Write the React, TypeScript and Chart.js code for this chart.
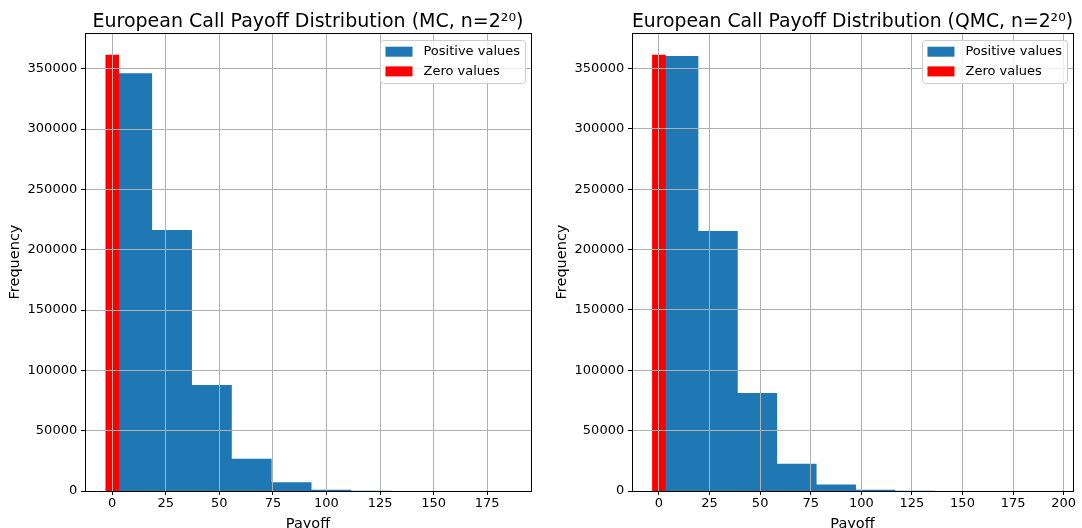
import React, { useEffect, useRef } from "react";
import { Chart, registerables } from "chart.js";

Chart.register(...registerables);

const FONT = "'DejaVu Sans', 'Liberation Sans', sans-serif";

// ---- Data ----
const seriesLabels = ["Positive values", "Zero values"];
const seriesColors = ["#1f77b4", "#ff0000"];
const panelTitles = [
  "European Call Payoff Distribution (MC, n=2²⁰)",
  "European Call Payoff Distribution (QMC, n=2²⁰)",
];
const xAxisTitle = "Payoff";
const yAxisTitle = "Frequency";

// MC panel
const mcBinEdges = [0, 18.6, 37.2, 55.8, 74.4, 93.0, 111.6, 130.2, 148.8, 167.4, 186.0];
const mcPositiveCounts = [346400, 216300, 87900, 26800, 7200, 1100, 240, 50, 10, 2];
const mcZeroBarEdges = [-3.26, 3.26];
const mcZeroCount = 361600;

// QMC panel
const qmcBinEdges = [0, 19.47, 38.94, 58.41, 77.88, 97.35, 116.82, 136.29, 155.76, 175.23, 194.7];
const qmcPositiveCounts = [360500, 215500, 81200, 22600, 5300, 1100, 200, 40, 8, 2];
const qmcZeroBarEdges = [-3.41, 3.41];
const qmcZeroCount = 361400;

const xTickStep = 25;
const yTickValues = [0, 50000, 100000, 150000, 200000, 250000, 300000, 350000];

const panels = [
  { edges: mcBinEdges, counts: mcPositiveCounts, zeroEdges: mcZeroBarEdges, zeroCount: mcZeroCount },
  { edges: qmcBinEdges, counts: qmcPositiveCounts, zeroEdges: qmcZeroBarEdges, zeroCount: qmcZeroCount },
];

// layout (pixels) per panel
const panelLayout = [
  { left: 0, yAxisWidth: 85, padRight: 10, yTitlePad: 6.9 },
  { left: 541, yAxisWidth: 91, padRight: 9, yTitlePad: 13 },
];
const PANEL_W = 541;
const PANEL_H = 528;

function histPoints(edges: number[], counts: number[]) {
  const pts: { x: number; y: number }[] = [{ x: edges[0], y: 0 }];
  counts.forEach((c, i) => pts.push({ x: edges[i], y: c }));
  pts.push({ x: edges[edges.length - 1], y: 0 });
  return pts;
}

const align = (v: number) => Math.round(v - 0.5) + 0.5;

const framePlugin = {
  id: "frame",
  afterDraw(chart: any) {
    const { ctx, chartArea } = chart;
    const l = align(chartArea.left);
    const r = align(chartArea.right);
    const t = align(chartArea.top);
    const b = align(chartArea.bottom);
    ctx.save();
    ctx.strokeStyle = "#000";
    ctx.lineWidth = 1;
    ctx.strokeRect(l, t, r - l, b - t);
    ctx.restore();
  },
};

const insideLegendPlugin = {
  id: "insideLegend",
  afterDraw(chart: any) {
    const { ctx, chartArea } = chart;
    const fontSize = 13;
    ctx.save();
    ctx.font = `${fontSize}px ${FONT}`;
    const items = chart.data.datasets.map((d: any) => ({ label: d.label, color: d.backgroundColor }));
    const textW = Math.max(...items.map((i: any) => ctx.measureText(i.label).width));
    const pad = 5;
    const handleW = 27;
    const handleH = 10;
    const gap = 11;
    const rowH = 19.7;
    const boxW = pad + handleW + gap + textW + 5.5;
    const boxH = 43;
    const right = chartArea.right - 5.5;
    const top = chartArea.top + 7.5;
    const left = right - boxW;
    const rad = 3;
    ctx.beginPath();
    ctx.moveTo(left + rad, top);
    ctx.lineTo(right - rad, top);
    ctx.arcTo(right, top, right, top + rad, rad);
    ctx.lineTo(right, top + boxH - rad);
    ctx.arcTo(right, top + boxH, right - rad, top + boxH, rad);
    ctx.lineTo(left + rad, top + boxH);
    ctx.arcTo(left, top + boxH, left, top + boxH - rad, rad);
    ctx.lineTo(left, top + rad);
    ctx.arcTo(left, top, left + rad, top, rad);
    ctx.closePath();
    ctx.fillStyle = "rgba(255,255,255,0.8)";
    ctx.fill();
    ctx.strokeStyle = "#cccccc";
    ctx.lineWidth = 1;
    ctx.stroke();
    items.forEach((it: any, i: number) => {
      const cy = top + 11.2 + i * rowH;
      ctx.fillStyle = it.color;
      ctx.fillRect(left + pad, cy - handleH / 2, handleW, handleH);
      ctx.fillStyle = "#000";
      ctx.textBaseline = "middle";
      ctx.textAlign = "left";
      ctx.fillText(it.label, left + pad + handleW + gap, cy);
    });
    ctx.restore();
  },
};

function makeConfig(idx: number): any {
  const p = panels[idx];
  const lay = panelLayout[idx];
  const dataMin = Math.min(p.zeroEdges[0], p.edges[0]);
  const dataMax = Math.max(p.zeroEdges[1], p.edges[p.edges.length - 1]);
  const span = dataMax - dataMin;
  const xMin = dataMin - 0.05 * span;
  const xMax = dataMax + 0.05 * span;
  const yMax = Math.max(p.zeroCount, ...p.counts) * 1.05;

  const gridOpts = {
    color: "#b0b0b0",
    lineWidth: 1,
    z: 1,
    tickColor: "#000",
    tickLength: 4,
    tickWidth: 1,
  };
  const tickFont = { family: FONT, size: 13 };
  const titleFont = { family: FONT, size: 14.5, lineHeight: 1.2 };

  return {
    type: "line",
    data: {
      datasets: [
        {
          label: seriesLabels[0],
          data: histPoints(p.edges, p.counts),
          stepped: "before",
          fill: "origin",
          backgroundColor: seriesColors[0],
          borderColor: "rgba(0,0,0,0)",
          borderWidth: 0,
          pointRadius: 0,
          pointHoverRadius: 0,
          order: 1,
        },
        {
          label: seriesLabels[1],
          data: histPoints(p.zeroEdges, [p.zeroCount]),
          stepped: "before",
          fill: "origin",
          backgroundColor: seriesColors[1],
          borderColor: "rgba(0,0,0,0)",
          borderWidth: 0,
          pointRadius: 0,
          pointHoverRadius: 0,
          order: 0,
        },
      ],
    },
    options: {
      animation: false,
      responsive: false,
      maintainAspectRatio: false,
      events: [],
      layout: { padding: { left: 0, right: lay.padRight, top: 0, bottom: 0 } },
      plugins: {
        legend: { display: false },
        tooltip: { enabled: false },
        title: {
          display: true,
          text: panelTitles[idx],
          fullSize: false,
          color: "#000",
          font: { family: FONT, size: 19, weight: "normal", lineHeight: 1.2 },
          padding: { top: 10.4, bottom: -0.2 },
        },
      },
      scales: {
        x: {
          type: "linear",
          min: xMin,
          max: xMax,
          afterFit: (s: any) => {
            s.height = 37;
            s.paddingLeft = 0;
            s.paddingRight = 0;
          },
          ticks: {
            stepSize: xTickStep,
            includeBounds: false,
            padding: 1,
            color: "#000",
            font: tickFont,
            maxRotation: 0,
            autoSkip: false,
          },
          grid: gridOpts,
          border: { display: false },
          title: {
            display: true,
            text: xAxisTitle,
            color: "#000",
            font: titleFont,
            padding: { top: 0, bottom: -4.7 },
          },
        },
        y: {
          type: "linear",
          min: 0,
          max: yMax,
          afterBuildTicks: (s: any) => {
            s.ticks = yTickValues.map((v) => ({ value: v }));
          },
          afterFit: (s: any) => {
            s.width = lay.yAxisWidth;
            s.paddingTop = 0;
            s.paddingBottom = 0;
          },
          ticks: {
            padding: 3.8,
            color: "#000",
            font: tickFont,
            autoSkip: false,
            callback: (v: any) => String(v),
          },
          grid: gridOpts,
          border: { display: false },
          title: {
            display: true,
            text: yAxisTitle,
            color: "#000",
            font: titleFont,
            padding: { top: lay.yTitlePad, bottom: 0 },
          },
        },
      },
    },
    plugins: [framePlugin, insideLegendPlugin],
  };
}

function Panel({ idx }: { idx: number }) {
  const ref = useRef<HTMLCanvasElement>(null);
  useEffect(() => {
    const chart = new Chart(ref.current as HTMLCanvasElement, makeConfig(idx));
    return () => chart.destroy();
  }, [idx]);
  return (
    <canvas
      ref={ref}
      width={PANEL_W}
      height={PANEL_H}
      style={{ position: "absolute", left: panelLayout[idx].left, top: 0, width: PANEL_W, height: PANEL_H }}
    />
  );
}

export default function App() {
  return (
    <div
      style={{
        position: "fixed",
        left: 0,
        top: 0,
        width: 1082,
        height: 528,
        background: "#fff",
        overflow: "hidden",
      }}
    >
      <Panel idx={0} />
      <Panel idx={1} />
    </div>
  );
}
